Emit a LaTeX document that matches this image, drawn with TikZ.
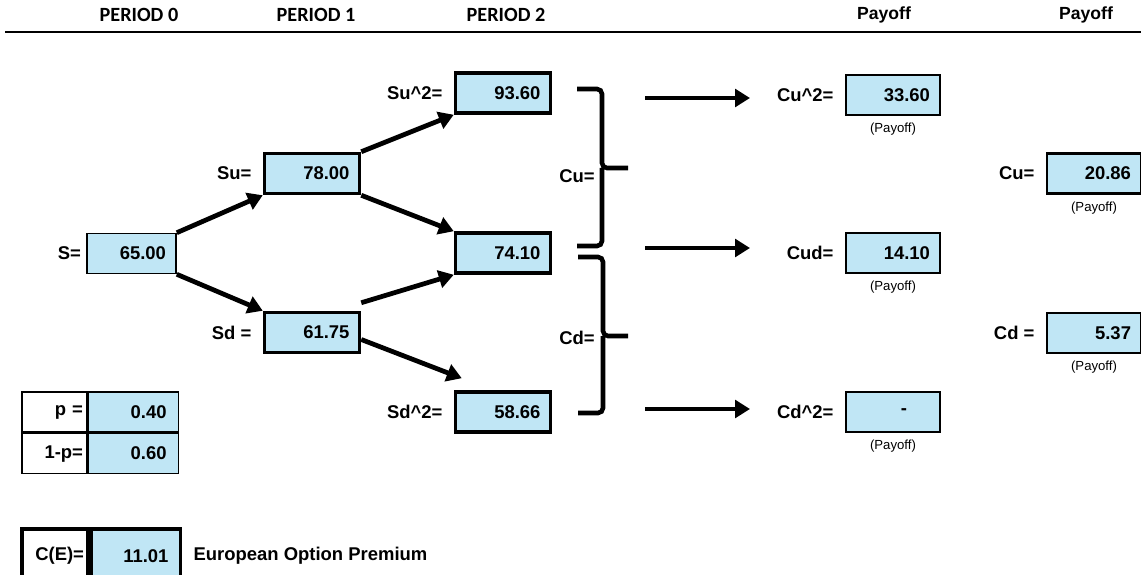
\documentclass[tikz,border=0pt]{standalone}
\usepackage{fontspec}
\setmainfont{Liberation Sans}
\newfontfamily\hdrfont{Carlito}
\usetikzlibrary{positioning, arrows.meta}
\definecolor{cell}{RGB}{192, 230, 245}

\begin{document}
\begin{tikzpicture}[
    x=0.02cm, y=-0.02cm,
    valbox/.style={
        draw,
        fill=cell,
        line width=1.4pt,
        minimum height=0.8cm,
        text width=1.5cm,
        inner xsep=0.2cm,
        inner ysep=0pt,
        align=right,
        font=\bfseries\fontsize{10.5}{12}\selectfont
    },
    heavy/.style={line width=2pt},
    light/.style={line width=0.9pt},
    tabcell/.style={
        draw,
        fill=#1,
        line width=0.9pt,
        minimum height=0.8cm,
        inner ysep=0pt,
        align=right,
        font=\bfseries\fontsize{10.5}{12}\selectfont
    },
    tabcell/.default=white,
    lbl/.style={inner sep=0pt, font=\bfseries\fontsize{10.5}{12}\selectfont},
    paylbl/.style={inner sep=0pt, font=\fontsize{7.5}{9}\selectfont},
    hdr/.style={font=\hdrfont\bfseries\fontsize{11.5}{13}\selectfont},
    payhdr/.style={font=\bfseries\fontsize{10}{12}\selectfont},
    arr/.style={line width=2.7pt, -{Triangle[length=8.5pt, width=10pt]}},
    bkt/.style={line width=2.6pt, rounded corners=0.1cm}
]
\useasboundingbox (0,0) rectangle (1141,574);
\clip (0,0) rectangle (1141,574);

% === Header ===
\node[hdr] (h0) at (139,15) {PERIOD 0};
\node[hdr] (h1) at (316,15) {PERIOD 1};
\node[hdr] (h2) at (506,15) {PERIOD 2};
\node[payhdr] (h3) at (884,15) {Payoff};
\node[payhdr] (h4) at (1086,15) {Payoff};
\draw[line width=1.6pt] (5,32) -- (1141,32);

% === Stock tree ===
\node[valbox, light, text width=1.38cm] (s) at (131.5,253.5) {65.00};
\node[lbl, left=0.1cm of s] {S=};

\node[valbox, heavy] (su) at (312,173.5) {78.00};
\node[lbl, left=0.22cm of su] {Su=};
\node[valbox, heavy] (sd) at (312,332.5) {61.75};
\node[lbl, left=0.22cm of sd] {Sd =};

\node[valbox, heavy] (su2) at (503,93) {93.60};
\node[lbl, left=0.22cm of su2] {Su\^{}2=};
\node[valbox, heavy] (sud) at (503,253) {74.10};
\node[valbox, heavy] (sd2) at (503,412) {58.66};
\node[lbl, left=0.22cm of sd2] {Sd\^{}2=};

\draw[arr] (s.north east) -- (su.south west);
\draw[arr] (s.south east) -- (sd.north west);
\draw[arr] (su.north east) -- (su2.south west);
\draw[arr] (su.south east) -- (sud.north west);
\draw[arr] ([yshift=0.16cm]sd.north east) -- (sud.south west);
\draw[arr] ([yshift=-0.14cm]sd.east) -- ([xshift=0.16cm, yshift=0.24cm]sd2.north west);

% === Braces ===
\draw[bkt] (577,89) -| (602,168) -- (628,168) (602,168) |- (577,246);
\draw[bkt] (578,257) -| (603,336) -- (628,336) (603,336) |- (578,413);
\node[lbl] (culbl) at (577,176) {Cu=};
\node[lbl] (cdlbl) at (577,338) {Cd=};

% === Payoff arrows ===
\coordinate (a1) at (645,98);
\coordinate (b1) at (750,98);
\coordinate (a2) at (645,248);
\coordinate (b2) at (750,248);
\coordinate (a3) at (645,409);
\coordinate (b3) at (750,409);
\draw[arr] (a1) -- (b1);
\draw[arr] (a2) -- (b2);
\draw[arr] (a3) -- (b3);

% === Period 2 payoffs ===
\node[valbox, text width=1.48cm] (cu2) at (893,95) {33.60};
\node[lbl, left=0.22cm of cu2] {Cu\^{}2=};
\node[paylbl, below=0.13cm of cu2] {(Payoff)};
\node[valbox, text width=1.48cm] (cud) at (893,253) {14.10};
\node[lbl, left=0.22cm of cud] {Cud=};
\node[paylbl, below=0.13cm of cud] {(Payoff)};
\node[valbox, text width=1.48cm] (cd2) at (893,412) {-\rule{0.46cm}{0pt}};
\node[lbl, left=0.22cm of cd2] {Cd\^{}2=};
\node[paylbl, below=0.13cm of cd2] {(Payoff)};

% === Period 1 values ===
\node[valbox, text width=1.48cm] (cu) at (1094,173.5) {20.86};
\node[lbl, left=0.22cm of cu] {Cu=};
\node[paylbl, below=0.13cm of cu] {(Payoff)};
\node[valbox, text width=1.48cm] (cd) at (1094,333) {5.37};
\node[lbl, left=0.22cm of cd] {Cd =};
\node[paylbl, below=0.13cm of cd] {(Payoff)};

% === Probabilities ===
\node[tabcell, text width=1.14cm, inner xsep=0.08cm] (plbl) at (54.5,412) {p =};
\node[tabcell=cell, text width=1.32cm, inner xsep=0.24cm, right=0pt of plbl] (pval) {0.40};
\node[tabcell, text width=1.14cm, inner xsep=0.08cm, below=0pt of plbl] (qlbl) {1-p=};
\node[tabcell=cell, text width=1.32cm, inner xsep=0.24cm, right=0pt of qlbl] (qval) {0.60};

% === Premium ===
\node[tabcell, heavy, minimum height=1.08cm, text width=1.16cm, inner xsep=0.08cm] (celbl) at (55,556) {C(E)=};
\node[tabcell=cell, heavy, minimum height=1.08cm, text width=1.3cm, inner xsep=0.24cm, right=0pt of celbl] (ceval) {11.01};
\node[lbl, right=0.22cm of ceval] (cetxt) {European Option Premium};

\end{tikzpicture}
\end{document}
